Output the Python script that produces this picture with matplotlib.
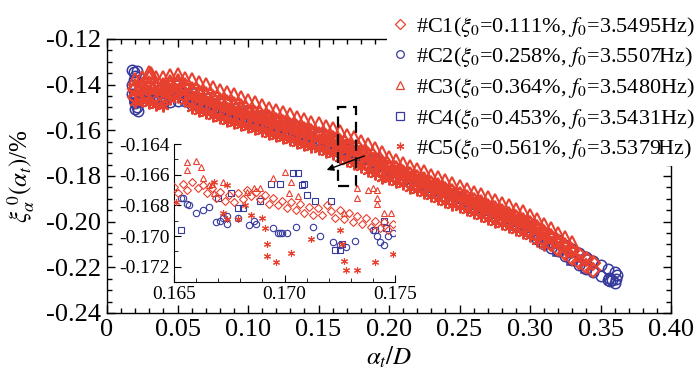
import numpy as np
import matplotlib.pyplot as plt
from matplotlib.lines import Line2D
from matplotlib.patches import Rectangle
from matplotlib.ticker import MultipleLocator, FuncFormatter

plt.rcParams.update({
    'font.family': 'Liberation Serif',
    'mathtext.fontset': 'stix',
    'axes.unicode_minus': False,
    'xtick.direction': 'in',
    'ytick.direction': 'in',
})

red = '#e8402f'
blue = '#363a9c'

read_x = np.round(np.arange(0.020, 0.3601, 0.005), 3)
read_x10 = read_x[::2][:33]

# upper / lower edge of each series' band (xi in %)
c1_hi = [-0.1418, -0.1412, -0.1406, -0.1410, -0.1412, -0.1402, -0.1398, -0.1416, -0.1433, -0.1445,
         -0.1455, -0.1467, -0.1479, -0.1489, -0.1498, -0.1510, -0.1519, -0.1528, -0.1540, -0.1549,
         -0.1559, -0.1570, -0.1579, -0.1589, -0.1600, -0.1609, -0.1619, -0.1630, -0.1639, -0.1655,
         -0.1669, -0.1682, -0.1694, -0.1711, -0.1728, -0.1743, -0.1760, -0.1771, -0.1785, -0.1797,
         -0.1810, -0.1821, -0.1835, -0.1847, -0.1860, -0.1871, -0.1885, -0.1897, -0.1910, -0.1921,
         -0.1935, -0.1947, -0.1960, -0.1971, -0.1985, -0.1997, -0.2010, -0.2029, -0.2050, -0.2069,
         -0.2090, -0.2109, -0.2130, -0.2147, -0.2165, -0.2181]
c1_lo = [-0.1455, -0.1450, -0.1446, -0.1448, -0.1447, -0.1436, -0.1433, -0.1449, -0.1466, -0.1475,
         -0.1488, -0.1497, -0.1511, -0.1519, -0.1531, -0.1539, -0.1551, -0.1559, -0.1571, -0.1579,
         -0.1591, -0.1599, -0.1611, -0.1619, -0.1631, -0.1639, -0.1651, -0.1659, -0.1671, -0.1684,
         -0.1701, -0.1711, -0.1726, -0.1741, -0.1759, -0.1773, -0.1791, -0.1801, -0.1816, -0.1827,
         -0.1841, -0.1851, -0.1866, -0.1877, -0.1891, -0.1901, -0.1916, -0.1927, -0.1941, -0.1951,
         -0.1966, -0.1977, -0.1991, -0.2001, -0.2016, -0.2027, -0.2041, -0.2059, -0.2081, -0.2099,
         -0.2121, -0.2139, -0.2161, -0.2177, -0.2196, -0.2211]

c2_hi = [-0.1440, -0.1436, -0.1431, -0.1433, -0.1436, -0.1426, -0.1423, -0.1439, -0.1456, -0.1466,
         -0.1478, -0.1488, -0.1501, -0.1510, -0.1521, -0.1530, -0.1541, -0.1550, -0.1561, -0.1570,
         -0.1581, -0.1590, -0.1601, -0.1610, -0.1621, -0.1630, -0.1641, -0.1650, -0.1661, -0.1667,
         -0.1683, -0.1694, -0.1707, -0.1725, -0.1740, -0.1756, -0.1773, -0.1784, -0.1797, -0.1811,
         -0.1822, -0.1834, -0.1848, -0.1860, -0.1872, -0.1884, -0.1898, -0.1910, -0.1922, -0.1934,
         -0.1948, -0.1960, -0.1972, -0.1984, -0.1998, -0.2010, -0.2022, -0.2050, -0.2071, -0.2090,
         -0.2082, -0.2101, -0.2121, -0.2139, -0.2156, -0.2172, -0.2190, -0.2206, -0.2222]
c2_lo = [-0.1478, -0.1470, -0.1466, -0.1472, -0.1480, -0.1478, -0.1470, -0.1473, -0.1488, -0.1496,
         -0.1508, -0.1516, -0.1530, -0.1536, -0.1550, -0.1557, -0.1570, -0.1577, -0.1590, -0.1597,
         -0.1610, -0.1617, -0.1630, -0.1637, -0.1650, -0.1657, -0.1670, -0.1677, -0.1690, -0.1687,
         -0.1702, -0.1714, -0.1727, -0.1744, -0.1760, -0.1776, -0.1792, -0.1804, -0.1817, -0.1830,
         -0.1842, -0.1854, -0.1867, -0.1880, -0.1892, -0.1904, -0.1917, -0.1930, -0.1942, -0.1954,
         -0.1967, -0.1980, -0.1992, -0.2004, -0.2017, -0.2030, -0.2042, -0.2076, -0.2098, -0.2116,
         -0.2130, -0.2150, -0.2170, -0.2188, -0.2206, -0.2222, -0.2240, -0.2255, -0.2268]
# start streak and end blob of C2
c2_extra_x = [0.018, 0.019, 0.020, 0.019, 0.018, 0.019, 0.018, 0.019, 0.020, 0.021, 0.022, 0.020, 0.021,
              0.356, 0.358, 0.361, 0.362, 0.357]
c2_extra_y = [-0.1335, -0.1345, -0.1360, -0.1380, -0.1400, -0.1420, -0.1440, -0.1460, -0.1480, -0.1500,
              -0.1515, -0.1505, -0.1340, -0.2245, -0.2255, -0.2250, -0.2235, -0.2260]

c3_hi = [-0.1375, -0.1368, -0.1362, -0.1366, -0.1368, -0.1356, -0.1352, -0.1372, -0.1375, -0.1388,
         -0.1398, -0.1411, -0.1422, -0.1434, -0.1443, -0.1456, -0.1467, -0.1478, -0.1488, -0.1501,
         -0.1510, -0.1521, -0.1530, -0.1541, -0.1551, -0.1562, -0.1570, -0.1581, -0.1591, -0.1605,
         -0.1621, -0.1631, -0.1646, -0.1661, -0.1679, -0.1693, -0.1719, -0.1729, -0.1744, -0.1755,
         -0.1769, -0.1779, -0.1794, -0.1805, -0.1819, -0.1829, -0.1844, -0.1855, -0.1869, -0.1879,
         -0.1894, -0.1905, -0.1919, -0.1929, -0.1944, -0.1955, -0.1969, -0.1987, -0.2009, -0.2027,
         -0.2049, -0.2067, -0.2089]
c3_lo = [-0.1402, -0.1396, -0.1389, -0.1393, -0.1396, -0.1384, -0.1381, -0.1399, -0.1416, -0.1427,
         -0.1438, -0.1449, -0.1461, -0.1471, -0.1481, -0.1491, -0.1509, -0.1519, -0.1531, -0.1539,
         -0.1551, -0.1559, -0.1571, -0.1579, -0.1591, -0.1599, -0.1611, -0.1619, -0.1631, -0.1644,
         -0.1661, -0.1671, -0.1686, -0.1701, -0.1719, -0.1733, -0.1751, -0.1761, -0.1776, -0.1787,
         -0.1801, -0.1811, -0.1826, -0.1837, -0.1851, -0.1861, -0.1876, -0.1887, -0.1901, -0.1911,
         -0.1926, -0.1937, -0.1951, -0.1961, -0.1976, -0.1987, -0.2001, -0.2019, -0.2041, -0.2059,
         -0.2081, -0.2099, -0.2121]
c3_extra_x = [0.030, 0.031]
c3_extra_y = [-0.1345, -0.1350]

c4_hi = [-0.1425, -0.1415, -0.1420, -0.1407, -0.1440, -0.1462, -0.1485, -0.1505, -0.1525, -0.1545,
         -0.1565, -0.1585, -0.1605, -0.1625, -0.1645, -0.1678, -0.1703, -0.1736, -0.1768, -0.1793,
         -0.1818, -0.1843, -0.1868, -0.1893, -0.1918, -0.1943, -0.1968, -0.1993, -0.2018, -0.2055,
         -0.2095, -0.2135, -0.2170]
c4_lo = [-0.1458, -0.1448, -0.1453, -0.1440, -0.1473, -0.1495, -0.1518, -0.1538, -0.1558, -0.1578,
         -0.1598, -0.1618, -0.1638, -0.1658, -0.1678, -0.1698, -0.1724, -0.1757, -0.1789, -0.1814,
         -0.1839, -0.1864, -0.1889, -0.1914, -0.1939, -0.1964, -0.1989, -0.2014, -0.2039, -0.2088,
         -0.2128, -0.2168, -0.2203]

c5_hi = [-0.1436, -0.1431, -0.1424, -0.1428, -0.1431, -0.1419, -0.1418, -0.1432, -0.1451, -0.1460,
         -0.1473, -0.1482, -0.1496, -0.1504, -0.1516, -0.1524, -0.1536, -0.1544, -0.1556, -0.1564,
         -0.1576, -0.1584, -0.1596, -0.1604, -0.1616, -0.1624, -0.1636, -0.1644, -0.1656, -0.1669,
         -0.1686, -0.1696, -0.1711, -0.1726, -0.1744, -0.1758, -0.1776, -0.1786, -0.1801, -0.1812,
         -0.1826, -0.1836, -0.1851, -0.1862, -0.1876, -0.1886, -0.1901, -0.1912, -0.1926, -0.1936,
         -0.1951, -0.1962, -0.1976, -0.1986, -0.2001, -0.2012, -0.2026, -0.2044, -0.2066]
c5_lo = [-0.1476, -0.1472, -0.1480, -0.1490, -0.1492, -0.1462, -0.1456, -0.1472, -0.1501, -0.1514,
         -0.1523, -0.1536, -0.1546, -0.1558, -0.1566, -0.1578, -0.1584, -0.1596, -0.1604, -0.1615,
         -0.1624, -0.1635, -0.1644, -0.1655, -0.1664, -0.1675, -0.1684, -0.1695, -0.1704, -0.1720,
         -0.1734, -0.1747, -0.1759, -0.1777, -0.1792, -0.1809, -0.1812, -0.1825, -0.1837, -0.1851,
         -0.1862, -0.1875, -0.1887, -0.1901, -0.1912, -0.1925, -0.1937, -0.1951, -0.1962, -0.1975,
         -0.1987, -0.2001, -0.2012, -0.2025, -0.2037, -0.2051, -0.2062, -0.2083, -0.2102]

# zoomed window 0.165-0.175
ins_c1_x = [0.1650, 0.1652, 0.1654, 0.1656, 0.1658, 0.1661, 0.1663, 0.1665, 0.1667, 0.1669,
            0.1671, 0.1673, 0.1675, 0.1677, 0.1679, 0.1681, 0.1683, 0.1685, 0.1687, 0.1689,
            0.1691, 0.1693, 0.1695, 0.1697, 0.1699, 0.1701, 0.1703, 0.1705, 0.1707, 0.1709,
            0.1711, 0.1713, 0.1715, 0.1717, 0.1719, 0.1721, 0.1723, 0.1725, 0.1727, 0.1729,
            0.1731, 0.1733, 0.1735, 0.1737, 0.1739, 0.1741, 0.1743, 0.1745, 0.1747, 0.1749]
ins_c1_y = [-0.1668, -0.1672, -0.1666, -0.1670, -0.1665, -0.1669, -0.1667, -0.1672, -0.1669, -0.1675,
            -0.1671, -0.1677, -0.1673, -0.1678, -0.1672, -0.1676, -0.1670, -0.1674, -0.1671, -0.1676,
            -0.1673, -0.1679, -0.1675, -0.1680, -0.1677, -0.1682, -0.1678, -0.1683, -0.1679, -0.1685,
            -0.1681, -0.1686, -0.1682, -0.1686, -0.1680, -0.1684, -0.1688, -0.1683, -0.1689, -0.1685,
            -0.1691, -0.1687, -0.1692, -0.1688, -0.1694, -0.1690, -0.1695, -0.1691, -0.1696, -0.1692]
ins_c2_x = [0.1653, 0.1654, 0.1656, 0.1657, 0.1660, 0.1663, 0.1666, 0.1669, 0.1671, 0.1672,
            0.1674, 0.1674, 0.1679, 0.1684, 0.1686, 0.1687, 0.1695, 0.1697, 0.1698, 0.1699,
            0.1701, 0.1705, 0.1713, 0.1716, 0.1722, 0.1725, 0.1728, 0.1732, 0.1740, 0.1742,
            0.1743, 0.1745, 0.1747, 0.1749]
ins_c2_y = [-0.1675, -0.1675, -0.1679, -0.1680, -0.1685, -0.1683, -0.1681, -0.1691, -0.1690, -0.1688,
            -0.1687, -0.1692, -0.1688, -0.1693, -0.1690, -0.1692, -0.1695, -0.1698, -0.1698, -0.1698,
            -0.1698, -0.1694, -0.1694, -0.1700, -0.1704, -0.1706, -0.1707, -0.1703, -0.1696, -0.1700,
            -0.1704, -0.1706, -0.1700, -0.1698]
ins_c3_x = [0.1656, 0.1656, 0.1660, 0.1662, 0.1663, 0.1666, 0.1667, 0.1668, 0.1672, 0.1683,
            0.1686, 0.1689, 0.1695, 0.1700, 0.1702, 0.1703, 0.1706, 0.1727, 0.1733, 0.1733,
            0.1738, 0.1740, 0.1742, 0.1742, 0.1742, 0.1745, 0.1748]
ins_c3_y = [-0.1652, -0.1657, -0.1651, -0.1655, -0.1662, -0.1667, -0.1666, -0.1672, -0.1665, -0.1671,
            -0.1669, -0.1669, -0.1662, -0.1658, -0.1672, -0.1665, -0.1674, -0.1685, -0.1669, -0.1675,
            -0.1670, -0.1669, -0.1670, -0.1675, -0.1679, -0.1685, -0.1685]
ins_c4_x = [0.1653, 0.1670, 0.1676, 0.1679, 0.1681, 0.1689, 0.1694, 0.1698, 0.1704, 0.1706,
            0.1708, 0.1709, 0.1710, 0.1714, 0.1721, 0.1723, 0.1725, 0.1726, 0.1741, 0.1745, 0.1746]
ins_c4_y = [-0.1696, -0.1675, -0.1672, -0.1682, -0.1682, -0.1677, -0.1666, -0.1666, -0.1659, -0.1659,
            -0.1667, -0.1666, -0.1673, -0.1677, -0.1677, -0.1709, -0.1709, -0.1705, -0.1696, -0.1690, -0.1695]
ins_c5_x = [0.1651, 0.1668, 0.1672, 0.1674, 0.1674, 0.1679, 0.1682, 0.1685, 0.1690, 0.1691,
            0.1692, 0.1692, 0.1696, 0.1703, 0.1712, 0.1725, 0.1726, 0.1727, 0.1728, 0.1733, 0.1741, 0.1749]
ins_c5_y = [-0.1678, -0.1665, -0.1685, -0.1667, -0.1689, -0.1689, -0.1680, -0.1686, -0.1688, -0.1695,
            -0.1705, -0.1713, -0.1717, -0.1711, -0.1702, -0.1696, -0.1705, -0.1716, -0.1722, -0.1722,
            -0.1717, -0.1712]

labels = [r'#C1($\xi_0$=0.111%, $f_0$=3.5495Hz)',
          r'#C2($\xi_0$=0.258%, $f_0$=3.5507Hz)',
          r'#C3($\xi_0$=0.364%, $f_0$=3.5480Hz)',
          r'#C4($\xi_0$=0.453%, $f_0$=3.5431Hz)',
          r'#C5($\xi_0$=0.561%, $f_0$=3.5379Hz)']
markers = ['D', 'o', '^', 's', (6, 2, 0)]
colors = [red, blue, red, blue, red]
zorders = [3.2, 2.0, 3.4, 2.2, 3.0]
main_x = [np.concatenate([read_x[:66], read_x[:66]]),
          np.concatenate([read_x, read_x, c2_extra_x]),
          np.concatenate([read_x[:63], read_x[:63], c3_extra_x]),
          np.concatenate([read_x10, read_x10]),
          np.concatenate([read_x[:59], read_x[:59]])]
main_y = [np.concatenate([c1_hi, c1_lo]),
          np.concatenate([c2_hi, c2_lo, c2_extra_y]),
          np.concatenate([c3_hi, c3_lo, c3_extra_y]),
          np.concatenate([c4_hi, c4_lo]),
          np.concatenate([c5_hi, c5_lo])]
ins_x = [ins_c1_x, ins_c2_x, ins_c3_x, ins_c4_x, ins_c5_x]
ins_y = [ins_c1_y, ins_c2_y, ins_c3_y, ins_c4_y, ins_c5_y]
main_ms = [7.0, 7.5, 8.5, 6.5, 8.5]
main_mew = [1.5, 1.1, 1.5, 1.1, 1.5]
ins_ms = [4.2, 4.6, 4.8, 4.0, 5.0]

fig = plt.figure(figsize=(7, 3.81), dpi=100)
ax = fig.add_axes([0.1529, 0.1785, 0.8057, 0.7192])

for i in range(5):
    ax.plot(main_x[i], main_y[i], ls='none', marker=markers[i], mfc='none',
            mec=colors[i], ms=main_ms[i], mew=main_mew[i], zorder=zorders[i])

ax.set_xlim(0, 0.40)
ax.set_ylim(-0.24, -0.12)
ax.xaxis.set_major_locator(MultipleLocator(0.05))
ax.xaxis.set_minor_locator(MultipleLocator(0.01))
ax.yaxis.set_major_locator(MultipleLocator(0.02))
ax.yaxis.set_minor_locator(MultipleLocator(0.005))
ax.xaxis.set_major_formatter(FuncFormatter(lambda v, p: '0' if abs(v) < 1e-9 else '%.2f' % v))
ax.yaxis.set_major_formatter(FuncFormatter(lambda v, p: '%.2f' % v))
ax.tick_params(which='both', top=True, right=True, labelsize=19, width=1.0, pad=4)
ax.tick_params(which='major', length=6)
ax.tick_params(which='minor', length=3.5)
for s in ax.spines.values():
    s.set_linewidth(1.0)
ax.set_xlabel(r'$\alpha_t/D$', fontsize=18)
ax.set_ylabel(r'$\xi_{\alpha}^{\ 0}(\alpha_t)$/%', fontsize=18)
ax.xaxis.set_label_coords(0.5, -0.115)
ax.yaxis.set_label_coords(-0.125, 0.5)

# zoom box and arrow
ax.add_patch(Rectangle((0.1638, -0.1844), 0.0128, 0.0346, fill=False, ec='black',
                       lw=1.6, ls=(0, (5, 3)), zorder=5))
ax.annotate('', xy=(0.1539, -0.1778), xytext=(0.1844, -0.1708),
            arrowprops=dict(arrowstyle='-|>', color='black', lw=1.0, mutation_scale=10), zorder=6)

# legend sits over the frame corner but under the red band
handles = [Line2D([], [], ls='none', marker=markers[i], mfc='none', mec=colors[i],
                  ms=5.5, mew=0.9) for i in range(5)]
leg = ax.legend(handles, labels, loc='upper right', bbox_to_anchor=(1.005, 0.985),
                bbox_transform=fig.transFigure, frameon=True,
                fontsize=16, handlelength=0.8, handletextpad=0.3, labelspacing=0.3,
                borderaxespad=0.2, borderpad=0.2, facecolor='white', edgecolor='none',
                framealpha=1.0, fancybox=False)
leg.set_zorder(2.7)

# inset
axi = fig.add_axes([0.2486, 0.2598, 0.3157, 0.3622])
axi.patch.set_alpha(0)
for i in range(5):
    axi.plot(ins_x[i], ins_y[i], ls='none', marker=markers[i], mfc='none',
             mec=colors[i], ms=ins_ms[i], mew=0.8, zorder=zorders[i])
axi.set_xlim(0.165, 0.175)
axi.set_ylim(-0.173, -0.164)
axi.spines['top'].set_visible(False)
axi.spines['right'].set_visible(False)
axi.xaxis.set_major_locator(MultipleLocator(0.005))
axi.xaxis.set_minor_locator(MultipleLocator(0.001))
axi.yaxis.set_major_locator(MultipleLocator(0.002))
axi.yaxis.set_minor_locator(MultipleLocator(0.001))
axi.xaxis.set_major_formatter(FuncFormatter(lambda v, p: '%.3f' % v))
axi.yaxis.set_major_formatter(FuncFormatter(lambda v, p: '%.3f' % v))
axi.tick_params(which='both', top=False, right=False, labelsize=14, pad=3)
axi.tick_params(which='major', length=5)
axi.tick_params(which='minor', length=3)

fig.savefig('out.png', dpi=100)
